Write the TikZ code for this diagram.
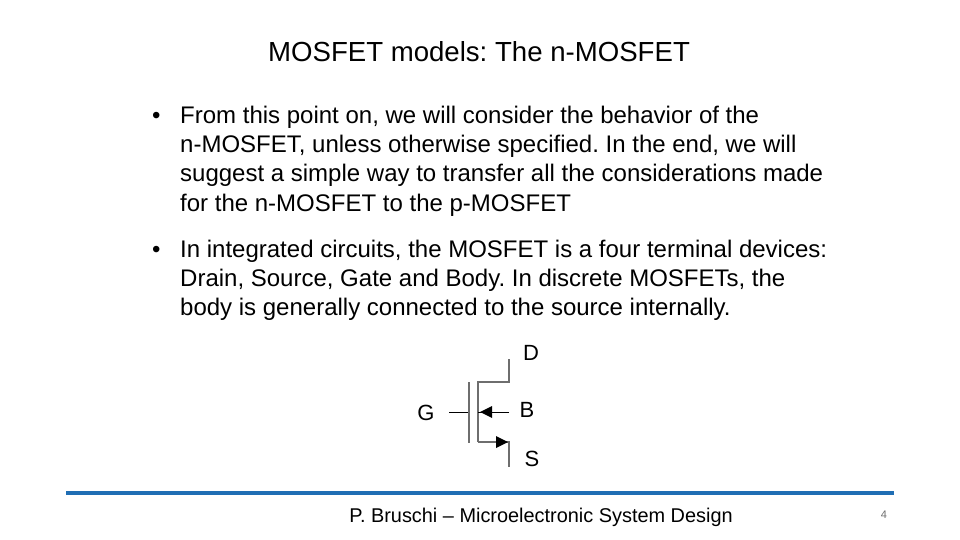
\documentclass[tikz,border=0pt]{standalone}
\usepackage{fontspec}
\setmainfont{Liberation Sans}
\usetikzlibrary{arrows.meta}
\definecolor{barblue}{RGB}{31,110,180}
\definecolor{symgray}{RGB}{110,110,110}
\begin{document}
\frenchspacing
\begin{tikzpicture}[x=1pt,y=-1pt,
  txt/.style={anchor=base west,inner sep=0,font=\fontsize{24}{28}\selectfont},
  lbl/.style={inner sep=0,font=\fontsize{22}{26}\selectfont},
  wire/.style={draw=symgray,line width=2.6pt},
  thin/.style={draw=black,line width=0.8pt}]
\useasboundingbox (0,0) rectangle (960,540);
\node[inner sep=0,anchor=base,font=\fontsize{27.6}{32}\selectfont] (title) at (479,62) {MOSFET models: The n-MOSFET};
\node[txt] (b1) at (152,124) {•};
\node[txt] (l1) at (180,124) {From this point on, we will consider the behavior of the};
\node[txt] (l2) at (180,153) {n-MOSFET, unless otherwise specified. In the end, we will};
\node[txt] (l3) at (180,182) {suggest a simple way to transfer all the considerations made};
\node[txt] (l4) at (180,211) {for the n-MOSFET to the p-MOSFET};
\node[txt] (b2) at (152,257) {•};
\node[txt] (m1) at (180,257) {In integrated circuits, the MOSFET is a four terminal devices:};
\node[txt] (m2) at (180,286) {Drain, Source, Gate and Body. In discrete MOSFETs, the};
\node[txt] (m3) at (180,315) {body is generally connected to the source internally.};
% symbol
\coordinate (gl) at (449,412);
\coordinate (gr) at (469,412);
\coordinate (gt) at (469,382);
\coordinate (gb) at (469,443);
\coordinate (ct) at (478,382);
\coordinate (cb) at (478,442);
\coordinate (cm) at (478,412);
\coordinate (dr) at (509,382);
\coordinate (dt) at (509,359);
\coordinate (br) at (509,412);
\coordinate (sr) at (509,442);
\coordinate (sb) at (509,467);
\draw[thin] (gl) -- (gr);
\draw[wire] (gt) -- (gb);
\draw[wire] (cb) -- (ct) -- (dr) -- (dt);
\draw[thin] (br) -- (cm);
\fill[black] (480,412) -- (492,406) -- (492,418) -- cycle;
\draw[wire] (cb) -- (sr) -- (sb);
\fill[black] (508,442) -- (496,436) -- (496,448) -- cycle;
\node[lbl] (D) at (531,353) {D};
\node[lbl] (G) at (426,413) {G};
\node[lbl] (B) at (527,410) {B};
\node[lbl] (S) at (532,459) {S};
% footer
\coordinate (bl) at (66,493);
\coordinate (brr) at (894,493);
\draw[barblue,line width=3.5pt] (bl) -- (brr);
\node[inner sep=0,anchor=base,font=\fontsize{19.9}{24}\selectfont] (foot) at (541,522) {P. Bruschi – Microelectronic System Design};
\node[inner sep=0,anchor=base,font=\fontsize{11}{13}\selectfont,text=symgray] (pg) at (884,518) {4};
\end{tikzpicture}
\end{document}
